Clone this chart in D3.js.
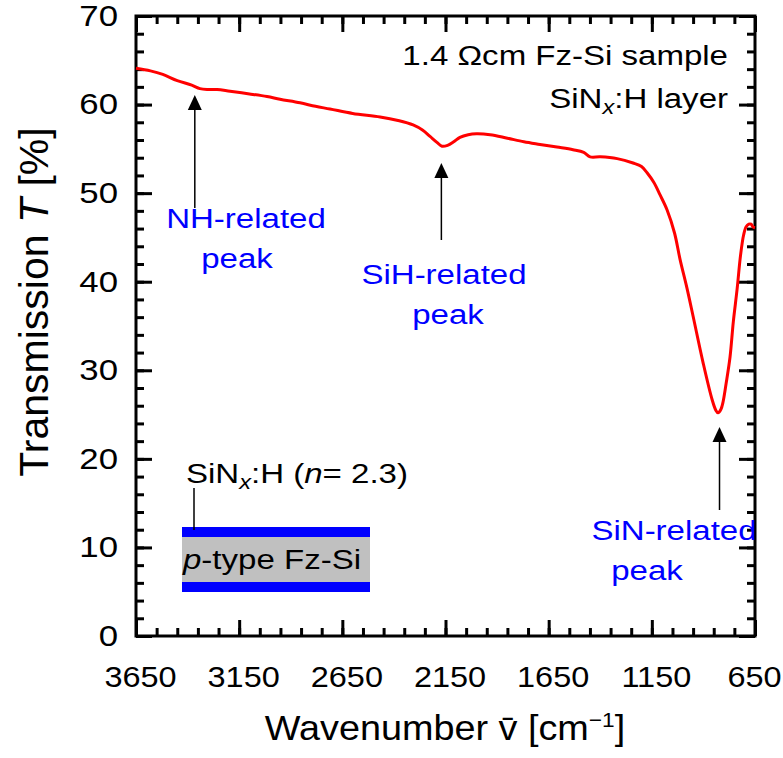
<!DOCTYPE html>
<html><head><meta charset="utf-8">
<script src="https://cdn.jsdelivr.net/npm/d3@7"></script>
<style>
body{margin:0;background:#fff;}
svg text{font-family:"Liberation Sans",Arial,sans-serif;}
</style></head>
<body><svg id="c" width="783" height="758"></svg>
<script>
const wavenumber = [3650,3580,3520,3450,3380,3340,3300,3257,3194,3100,3015,2952,2855,2780,2710,2600,2467,2380,2307,2260,2225,2190,2167,2140,2110,2080,2040,2000,1934,1850,1770,1692,1610,1532,1480,1449,1400,1318,1241,1200,1173,1140,1110,1076,1040,1013,980,950,902,858,840,829,815,805,790,771,755,737,720,705,693,680,669,660,650];
const transmission = [64.1,63.8,63.4,62.7,62.2,61.8,61.7,61.7,61.5,61.2,60.9,60.6,60.2,59.8,59.5,59.0,58.6,58.2,57.7,57.1,56.4,55.7,55.3,55.4,55.8,56.3,56.6,56.7,56.6,56.2,55.8,55.5,55.2,54.9,54.6,54.1,54.1,53.9,53.4,53.0,52.3,51.2,49.8,48.1,45.5,42.5,39.3,36.1,30.9,26.7,25.5,25.2,25.6,26.4,28.5,31.5,35.5,39.1,43.0,45.3,46.2,46.5,46.5,46.2,46.1];
const xTickLabels = [3650,3150,2650,2150,1650,1150,650];
const yTickLabels = [0,10,20,30,40,50,60,70];
const peakNames = ["NH-related","SiH-related","SiN-related"];
const peakPositions = [3365,2170,822];

const svg = d3.select("#c");
const L=136,R=755,T=16,B=636;
const SX=1.18;
const x = d3.scaleLinear().domain([3650,650]).range([L,R]);
const y = d3.scaleLinear().domain([0,70]).range([B,T]);
const xMinor = d3.range(3650,649,-100);
const yMinor = d3.range(0,71,2);

function styleAxis(g){
  g.selectAll("path,line").attr("stroke","#000").attr("stroke-width",3);
  g.select(".domain").remove();
}
function stext(px,py,anchor,size,fill){
  return svg.append("text").attr("transform",`translate(${px},${py}) scale(${SX},1)`)
    .attr("text-anchor",anchor).attr("font-size",size).attr("fill",fill||"#000");
}
// minor ticks
svg.append("g").attr("transform",`translate(0,${B})`).call(d3.axisBottom(x).tickValues(xMinor).tickSize(-8).tickFormat("")).call(styleAxis);
svg.append("g").attr("transform",`translate(0,${T})`).call(d3.axisTop(x).tickValues(xMinor).tickSize(-8).tickFormat("")).call(styleAxis);
svg.append("g").attr("transform",`translate(${L},0)`).call(d3.axisLeft(y).tickValues(yMinor).tickSize(-8).tickFormat("")).call(styleAxis);
svg.append("g").attr("transform",`translate(${R},0)`).call(d3.axisRight(y).tickValues(yMinor).tickSize(-8).tickFormat("")).call(styleAxis);
// major ticks
const gx = svg.append("g").attr("transform",`translate(0,${B})`).call(d3.axisBottom(x).tickValues(xTickLabels).tickSize(-16).tickPadding(30).tickFormat(d3.format("d")));
gx.call(styleAxis);
gx.selectAll("text").attr("font-size",29).attr("fill","#000").attr("transform",d=>`translate(${d===650?-1:4},0) scale(1.12,1)`);
svg.append("g").attr("transform",`translate(0,${T})`).call(d3.axisTop(x).tickValues(xTickLabels).tickSize(-16).tickFormat("")).call(styleAxis);
const gy = svg.append("g").attr("transform",`translate(${L},0)`).call(d3.axisLeft(y).tickValues(yTickLabels).tickSize(-16).tickFormat(d3.format("d")));
gy.call(styleAxis);
gy.selectAll("text").attr("font-size",29).attr("fill","#000").attr("x",0).attr("transform",`translate(-18,0) scale(1.2,1)`);
svg.append("g").attr("transform",`translate(${R},0)`).call(d3.axisRight(y).tickValues(yTickLabels).tickSize(-16).tickFormat("")).call(styleAxis);
// frame
svg.append("rect").attr("x",L).attr("y",T).attr("width",R-L).attr("height",B-T).attr("fill","none").attr("stroke","#000").attr("stroke-width",3);

// curve
const pts = wavenumber.map((w,i)=>[w,transmission[i]]);
svg.append("path").datum(pts).attr("fill","none").attr("stroke","#ff0000").attr("stroke-width",3)
  .attr("d",d3.line().x(d=>x(d[0])).y(d=>y(d[1])).curve(d3.curveCatmullRom));

// axis titles
stext(445,740,"middle",35).attr("transform","translate(445,740) scale(1.08,1)")
  .html('Wavenumber <tspan>v̄</tspan> [cm<tspan dy="-13" font-size="21">−1</tspan><tspan dy="13">]</tspan>');
svg.append("text").attr("transform","translate(48,302) rotate(-90)").attr("text-anchor","middle").attr("font-size",41)
  .html('Transmission <tspan font-style="italic">T</tspan> [%]');

// top-right text
stext(728,65,"end",28).text("1.4 Ωcm Fz-Si sample");
stext(728,108,"end",28)
  .html('SiN<tspan font-style="italic" font-size="20" dy="6">x</tspan><tspan dy="-6">:H layer</tspan>');

// arrows and peak labels
const arrowLen=[[95,208],[163,240],[427,510]];
const textPos=[[246,228,237,268],[444,284,448,324],[674,540,647,580]];
peakPositions.forEach((p,i)=>{
  const ax=x(p);
  const tip=arrowLen[i][0];
  svg.append("line").attr("x1",ax).attr("x2",ax).attr("y1",tip+10).attr("y2",arrowLen[i][1]).attr("stroke","#000").attr("stroke-width",1.5);
  svg.append("path").attr("d",`M${ax},${tip} L${ax-7},${tip+15} L${ax+7},${tip+15} Z`).attr("fill","#000");
  const tp=textPos[i];
  stext(tp[0],tp[1],"middle",28,"#0000ff").text(peakNames[i]);
  stext(tp[2],tp[3],"middle",28,"#0000ff").text("peak");
});

// layer diagram
svg.append("rect").attr("x",182).attr("y",537).attr("width",188).attr("height",45).attr("fill","#c0c0c0");
svg.append("rect").attr("x",182).attr("y",527).attr("width",188).attr("height",10).attr("fill","#0000ff");
svg.append("rect").attr("x",182).attr("y",582).attr("width",188).attr("height",10).attr("fill","#0000ff");
svg.append("line").attr("x1",194).attr("x2",194).attr("y1",488).attr("y2",530).attr("stroke","#000").attr("stroke-width",1.5);
stext(186,483,"start",28)
  .html('SiN<tspan font-style="italic" font-size="20" dy="6">x</tspan><tspan dy="-6">:H (</tspan><tspan font-style="italic">n</tspan>= 2.3)');
stext(183,569,"start",28)
  .html('<tspan font-style="italic">p</tspan>-type Fz-Si');
</script></body></html>
